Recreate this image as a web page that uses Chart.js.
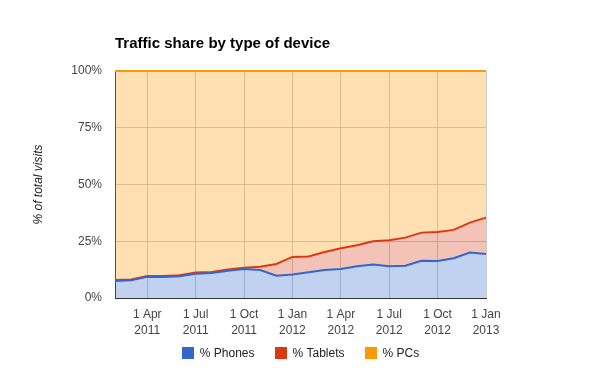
<!DOCTYPE html>
<html><head><meta charset="utf-8">
<script src="https://cdn.jsdelivr.net/npm/chart.js@4/dist/chart.umd.min.js"></script>
<style>html,body{margin:0;padding:0;background:#fff}#wrap{width:600px;height:371px;position:relative}</style>
</head><body><div id="wrap"><canvas id="c" width="600" height="371"></canvas></div>
<script>
// Months: index 0 = Feb 2011 ... index 23 = Jan 2013
const months = ['Feb 2011','Mar 2011','Apr 2011','May 2011','Jun 2011','Jul 2011','Aug 2011','Sep 2011','Oct 2011','Nov 2011','Dec 2011','Jan 2012',
                'Feb 2012','Mar 2012','Apr 2012','May 2012','Jun 2012','Jul 2012','Aug 2012','Sep 2012','Oct 2012','Nov 2012','Dec 2012','Jan 2013'];
const phones  = [7.5, 7.8, 9.3, 9.3, 9.6, 10.7, 11.0, 12.0, 12.8, 12.3, 9.8, 10.4, 11.3, 12.3, 12.8, 14.0, 14.8, 14.0, 14.2, 16.4, 16.3, 17.5, 20.0, 19.4];
const tablets = [0.4, 0.4, 0.4, 0.4, 0.4, 0.5, 0.5, 0.6, 0.5, 1.5, 5.2, 7.7, 7.0, 8.0, 9.1, 9.2, 10.2, 11.4, 12.4, 12.4, 12.8, 12.5, 13.2, 16.0];
const pcs     = phones.map((p, i) => +(100 - p - tablets[i]).toFixed(1));
const seriesNames = ['% Phones', '% Tablets', '% PCs'];
const tickMonthIdx = [2, 5, 8, 11, 14, 17, 20, 23];
const tickLabels = [['1 Apr','2011'],['1 Jul','2011'],['1 Oct','2011'],['1 Jan','2012'],['1 Apr','2012'],['1 Jul','2012'],['1 Oct','2012'],['1 Jan','2013']];
const yTickValues = [0, 25, 50, 75, 100];

const lineColors = ['#3366CC', '#DC3912', '#FF9900'];
const fillColors = ['rgba(51,102,204,0.3)', 'rgba(220,57,18,0.3)', 'rgba(255,153,0,0.3)'];
const FONT = "Arial, 'Liberation Sans', sans-serif";

const toPts = arr => arr.map((v, i) => ({x: i, y: v}));
const seriesData = [phones, tablets, pcs];

const legendPlugin = {
  id: 'customLegend',
  afterDraw(chart) {
    const ctx = chart.ctx;
    ctx.save();
    ctx.font = '12px ' + FONT;
    const box = 12, gapText = 6, gapItem = 20;
    const widths = seriesNames.map(n => box + gapText + ctx.measureText(n).width);
    const total = widths.reduce((a, b) => a + b, 0) + gapItem * (widths.length - 1);
    let x = 300.5 - total / 2;
    const yTop = 347;
    seriesNames.forEach((n, i) => {
      ctx.fillStyle = lineColors[i];
      ctx.fillRect(Math.round(x), yTop, box, box);
      ctx.fillStyle = '#222';
      ctx.textBaseline = 'middle';
      ctx.textAlign = 'left';
      ctx.fillText(n, x + box + gapText, yTop + box / 2 + 0.5);
      x += widths[i] + gapItem;
    });
    ctx.restore();
  }
};

new Chart(document.getElementById('c'), {
  type: 'line',
  data: {
    datasets: seriesData.map((arr, i) => ({
      label: seriesNames[i],
      data: toPts(arr),
      borderColor: lineColors[i],
      backgroundColor: fillColors[i],
      borderWidth: 2,
      pointRadius: 0,
      pointHoverRadius: 0,
      tension: 0,
      clip: 3,
      fill: i === 0 ? 'origin' : '-1'
    }))
  },
  options: {
    responsive: false,
    animation: false,
    events: [],
    layout: {padding: {left: 0, right: 114, top: 0, bottom: 34}},
    plugins: {
      legend: {display: false},
      tooltip: {enabled: false},
      title: {
        display: true,
        text: 'Traffic share by type of device',
        align: 'start',
        fullSize: false,
        color: '#000',
        font: {family: FONT, size: 15, weight: 'bold', lineHeight: 1.2},
        padding: {top: 35, bottom: 18}
      }
    },
    scales: {
      x: {
        type: 'linear',
        min: 0,
        max: months.length - 1,
        afterBuildTicks: s => { s.ticks = tickMonthIdx.map(v => ({value: v})); },
        afterFit: s => { s.height = 39; },
        ticks: {
          autoSkip: false,
          maxRotation: 0,
          padding: 9,
          color: '#444',
          font: {family: FONT, size: 12, lineHeight: 1.333},
          callback: (v) => { const k = tickMonthIdx.indexOf(v); return k >= 0 ? tickLabels[k] : ''; }
        },
        grid: {color: '#cccccc', drawTicks: false, lineWidth: 1},
        border: {display: true, color: '#333333', width: 1}
      },
      y: {
        stacked: true,
        min: 0,
        max: 100,
        afterBuildTicks: s => { s.ticks = yTickValues.map(v => ({value: v})); },
        afterFit: s => { s.width = 115; },
        ticks: {
          padding: 13,
          color: '#444',
          font: {family: FONT, size: 12},
          callback: v => v + '%'
        },
        grid: {color: '#cccccc', drawTicks: false, lineWidth: 1},
        border: {display: true, color: '#333333', width: 1},
        title: {
          display: true,
          text: '% of total visits',
          color: '#222',
          font: {family: FONT, size: 12, style: 'italic'},
          padding: {top: 31, bottom: 0}
        }
      }
    }
  },
  plugins: [legendPlugin]
});
</script>
</body></html>
